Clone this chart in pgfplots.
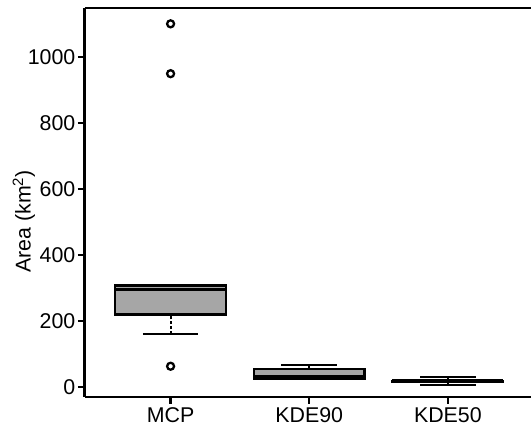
\documentclass[border=0pt]{standalone}
\usepackage{pgfplots}
\pgfplotsset{compat=1.18}
\usepgfplotslibrary{statistics}
\usepackage{fontspec}
\setmainfont{Liberation Sans}
\definecolor{boxgray}{RGB}{166,166,166}
\begin{document}
\begin{tikzpicture}
\begin{axis}[
  name=ax,
  scale only axis,
  width=447bp, height=390bp,
  xmin=0.381, xmax=3.597,
  ymin=-30, ymax=1148,
  axis x line*=box, axis y line*=left,
  xtick pos=left, ytick pos=left,
  tick align=outside,
  xtick={1,2,3}, xticklabels={MCP,KDE90,KDE50},
  ytick={0,200,400,600,800,1000},
  major tick length=7bp,
  tick style={line width=2.2bp, black},
  axis line style={line width=2.8bp, black},
  /pgf/number format/assume math mode=true,
  /pgf/number format/1000 sep={},
  tick label style={font=\fontsize{21.5}{25}\selectfont},
  yticklabel style={xshift=1bp},
  label style={font=\fontsize{21.5}{25}\selectfont},
  ylabel={Area (km\textsuperscript{2})},
  ylabel style={at={([xshift=-61bp]rel axis cs:0,0.451)}, anchor=center},
  boxplot/draw direction=y,
  boxplot/box extend=0.8,
  boxplot/whisker extend=0.4,
  boxplot/every box/.style={draw=black, line width=2.4bp, fill=boxgray},
  boxplot/every median/.style={black, line width=3.6bp},
  boxplot/draw/lower whisker/.code={%
    \draw[black, line width=2bp, dash pattern=on 3bp off 2bp]
      (boxplot box cs:\pgfplotsboxplotvalue{lower whisker},0.5) --
      (boxplot box cs:\pgfplotsboxplotvalue{lower quartile},0.5);
    \draw[black, line width=2.4bp]
      (boxplot whisker cs:\pgfplotsboxplotvalue{lower whisker},0) --
      (boxplot whisker cs:\pgfplotsboxplotvalue{lower whisker},1);
  },
  boxplot/draw/upper whisker/.code={%
    \draw[black, line width=2bp, dash pattern=on 3bp off 2bp]
      (boxplot box cs:\pgfplotsboxplotvalue{upper whisker},0.5) --
      (boxplot box cs:\pgfplotsboxplotvalue{upper quartile},0.5);
    \draw[black, line width=2.4bp]
      (boxplot whisker cs:\pgfplotsboxplotvalue{upper whisker},0) --
      (boxplot whisker cs:\pgfplotsboxplotvalue{upper whisker},1);
  },
]
% MCP
\addplot[draw=black, mark=o, mark size=3.5bp, mark options={line width=2.3bp, black},
  boxplot prepared={draw position=1,
    lower whisker=160, lower quartile=220, median=296,
    upper quartile=308, upper whisker=308}]
  coordinates {(1,1100) (1,949) (1,63)};
% KDE90
\addplot[draw=black, mark=o, mark size=3.5bp, mark options={line width=2.3bp, black},
  boxplot prepared={draw position=2,
    lower whisker=24, lower quartile=24, median=30,
    upper quartile=54, upper whisker=66}]
  coordinates {};
% KDE50
\addplot[draw=black, mark=o, mark size=3.5bp, mark options={line width=2.3bp, black},
  boxplot prepared={draw position=3,
    lower whisker=6, lower quartile=16, median=17.5,
    upper quartile=19, upper whisker=30}]
  coordinates {};
\end{axis}
\path ([xshift=-85bp,yshift=8bp]ax.north west) ([yshift=-39bp]ax.south west);
\end{tikzpicture}
\end{document}
